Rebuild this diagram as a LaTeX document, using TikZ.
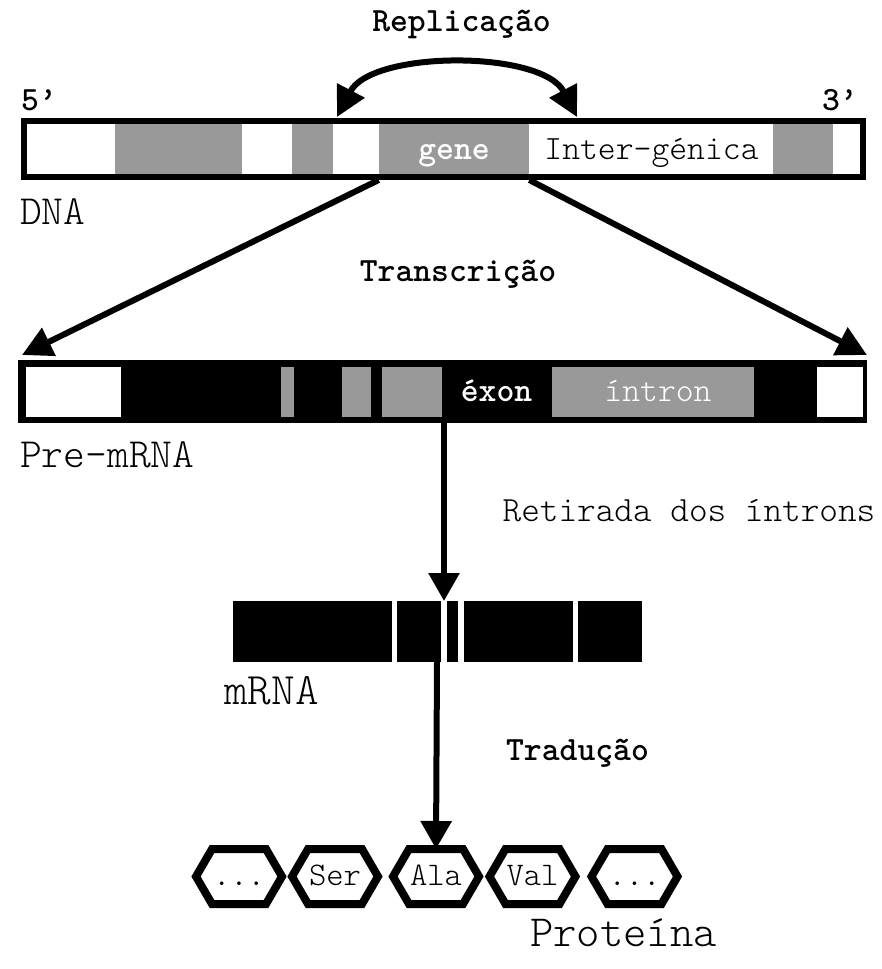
\documentclass[tikz,border=0pt]{standalone}
\usepackage{fontspec}
\setmonofont{Latin Modern Mono Light}
\usetikzlibrary{arrows.meta}
\definecolor{blockgray}{gray}{0.6}
\tikzset{
  lab/.style={inner sep=0pt, anchor=base, font=\ttfamily\fontsize{34pt}{40pt}\selectfont},
  boldlab/.style={lab, font=\ttfamily\bfseries\fontsize{34pt}{40pt}\selectfont},
  biglab/.style={lab, anchor=base west, font=\ttfamily\fontsize{41.5pt}{48pt}\selectfont},
  bar/.style={inner sep=0pt, outer sep=0pt},
  arrowline/.style={line width=6pt},
  bigtip/.style={-{Triangle[length=30pt,width=30pt]}},
  hexbox/.style={inner sep=0pt, outer sep=0pt, minimum width=86pt, minimum height=55pt,
    text height=18pt, text depth=0pt, font=\ttfamily\fontsize{33pt}{38pt}\selectfont},
  hexline/.style={line width=8pt, line join=miter},
}
\begin{document}
\begin{tikzpicture}[x=1pt,y=-1pt]
\useasboundingbox (0,0) rectangle (881,969);

% ---- DNA strand ----
\node[bar, draw, line width=6pt, fill=white, minimum width=839.3pt, minimum height=56pt] (dna) at (443.35,149) {};
\fill[blockgray] (115.3,124) rectangle (242,174);
\fill[blockgray] (292,124) rectangle (332.7,174);
\fill[blockgray] (378.7,124) rectangle (529.3,174);
\fill[blockgray] (773,124) rectangle (833,174);
\node[boldlab, text=white] (gene) at (454,159) {gene};
\node[lab] (inter) at (651.5,159) {Inter-génica};
\node[boldlab, anchor=base west] (five) at (21,110) {5’};
\node[boldlab, anchor=base east] (three) at (858,110) {3’};
\node[biglab] (dnalab) at (20,224) {DNA};

% ---- replication ----
\node[boldlab] (rep) at (461.5,31) {Replicação};
\coordinate (repL) at (337,117);
\coordinate (repR) at (577,117);
\draw[arrowline, {Triangle[length=30pt,width=30pt]}-{Triangle[length=30pt,width=30pt]}]
  (repL) .. controls (372,50) and (542,50) .. (repR);

% ---- transcription ----
\coordinate (geneSW) at (378.7,180);
\coordinate (geneSE) at (529.3,180);
\coordinate (preNW) at (22,355);
\coordinate (preNE) at (867,355);
\draw[arrowline, bigtip] (geneSW) -- (preNW);
\draw[arrowline, bigtip] (geneSE) -- (preNE);
\node[boldlab] (trans) at (458,281) {Transcrição};

% ---- pre-mRNA ----
\node[bar, fill=black, minimum width=849pt, minimum height=63pt] (pre) at (442.5,391.5) {};
\fill[white] (26,366.7) rectangle (120.7,417);
\fill[white] (817,366.7) rectangle (863,417);
\fill[blockgray] (280.7,366.7) rectangle (294.3,417);
\fill[blockgray] (342,366.7) rectangle (370.7,417);
\fill[blockgray] (382.3,366.7) rectangle (441.7,417);
\fill[blockgray] (551.7,366.7) rectangle (754,417);
\node[boldlab, text=white] (exon) at (496.5,401) {éxon};
\node[lab, text=white] (intron) at (658,401) {íntron};
\node[biglab] (prelab) at (20,467) {Pre-mRNA};

% ---- splicing ----
\coordinate (spliceTop) at (444,423);
\coordinate (mrnaTop) at (444,601);
\draw[arrowline, -{Triangle[length=28pt,width=30pt]}] (spliceTop) -- (mrnaTop);
\node[lab, font=\ttfamily\fontsize{35.5pt}{40pt}\selectfont] (retir) at (689,521) {Retirada dos íntrons};

% ---- mRNA ----
\node[bar, fill=black, minimum width=408.7pt, minimum height=60.7pt] (mrna) at (437.35,631.35) {};
\fill[white] (391.7,601) rectangle (397,661.7);
\fill[white] (441,601) rectangle (447,661.7);
\fill[white] (458,601) rectangle (464,661.7);
\fill[white] (572.5,601) rectangle (578,661.7);
\node[biglab, font=\ttfamily\fontsize{45pt}{52pt}\selectfont] (mrnalab) at (224,704) {mRNA};

% ---- translation ----
\node[boldlab] (trad) at (577.5,760) {Tradução};

% ---- protein ----
\node[hexbox] (h1) at (239,876.5) {...};
\node[hexbox] (h2) at (335,876.5) {Ser};
\node[hexbox] (h3) at (436,876.5) {Ala};
\node[hexbox] (h4) at (532.5,876.5) {Val};
\node[hexbox] (h5) at (634.5,876.5) {...};
\foreach \h in {h1,h2,h3,h4,h5}
  \draw[hexline] (\h.west) -- ([xshift=16pt]\h.north west) -- ([xshift=-16pt]\h.north east)
    -- (\h.east) -- ([xshift=-16pt]\h.south east) -- ([xshift=16pt]\h.south west) -- cycle;
\coordinate (mrnaBot) at (437,661.7);
\draw[arrowline, -{Triangle[length=28pt,width=30pt]}] (mrnaBot) -- (h3.north);
\node[lab, font=\ttfamily\fontsize{44.5pt}{52pt}\selectfont] (prot) at (623.5,946) {Proteína};
\end{tikzpicture}
\end{document}
